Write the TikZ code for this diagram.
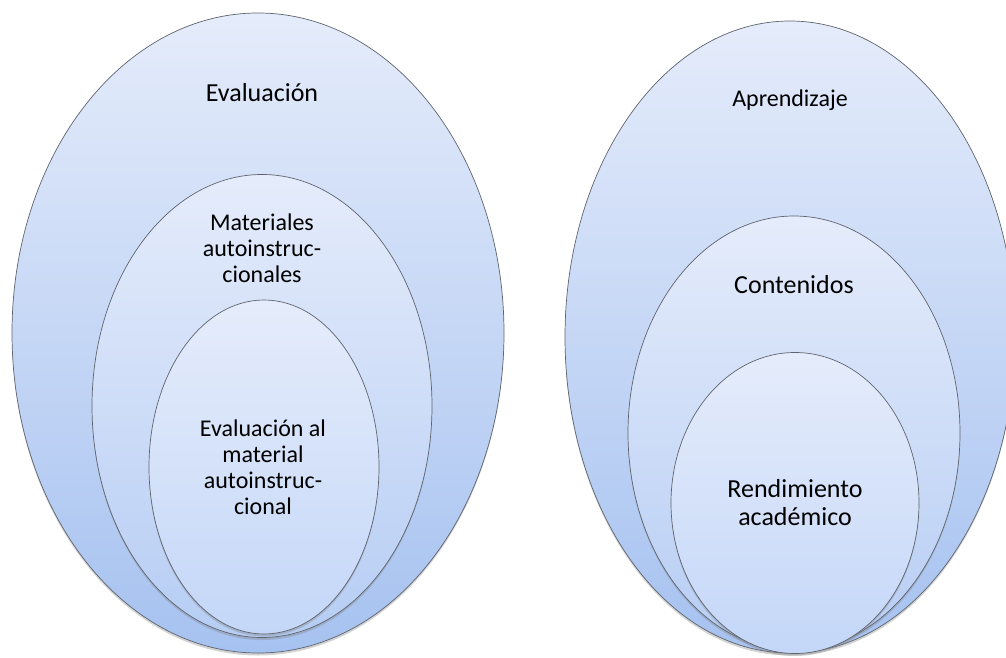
\documentclass[tikz,border=0pt]{standalone}
\usepackage{fontspec}
\setmainfont{Carlito}
\usetikzlibrary{shapes.geometric,shadows}
\definecolor{topc}{RGB}{229,236,251}
\definecolor{botA}{RGB}{166,194,240}
\definecolor{botB}{RGB}{182,205,244}
\definecolor{botC}{RGB}{196,215,248}
\definecolor{edgec}{RGB}{95,100,110}
\tikzset{
  oval/.style={ellipse, inner sep=0pt, outer sep=0pt, draw=edgec, line width=0.7pt,
    top color=topc, drop shadow={shadow xshift=0pt, shadow yshift=-2.5pt, opacity=0.35}},
  ovalA/.style={oval, bottom color=botA},
  ovalB/.style={oval, bottom color=botB},
  ovalC/.style={oval, bottom color=botC},
  lbl/.style={align=center, inner sep=0pt, text=black},
  big/.style={font=\fontsize{26}{28}\selectfont},
  mid/.style={font=\fontsize{24}{26}\selectfont}
}
\begin{document}
\begin{tikzpicture}[x=1pt,y=-1pt]
\useasboundingbox (0,0) rectangle (1006,658);
% left group
\node[ovalA, minimum width=492pt, minimum height=640pt] (L1) at (258,333) {};
\node[ovalB, minimum width=340pt, minimum height=463pt] (L2) at (262,406) {};
\node[ovalC, minimum width=230pt, minimum height=334pt] (L3) at (264,467) {};
\node[lbl, big] (t1) at (262,93) {Evaluación};
\node[lbl, mid] (t2) at (262,248) {Materiales\\autoinstruc-\\cionales};
\node[lbl, mid] (t3) at (263,467) {Evaluación al\\material\\autoinstruc-\\cional};
% right group
\node[ovalA, minimum width=450pt, minimum height=632pt] (R1) at (790,337) {};
\node[ovalB, minimum width=332pt, minimum height=434pt] (R2) at (794,433) {};
\node[ovalC, minimum width=248pt, minimum height=301pt] (R3) at (795,503) {};
\node[lbl, mid] (t4) at (790,100) {Aprendizaje};
\node[lbl, big] (t5) at (794,285) {Contenidos};
\node[lbl, big] (t6) at (795,503) {Rendimiento\\académico};
\end{tikzpicture}
\end{document}
